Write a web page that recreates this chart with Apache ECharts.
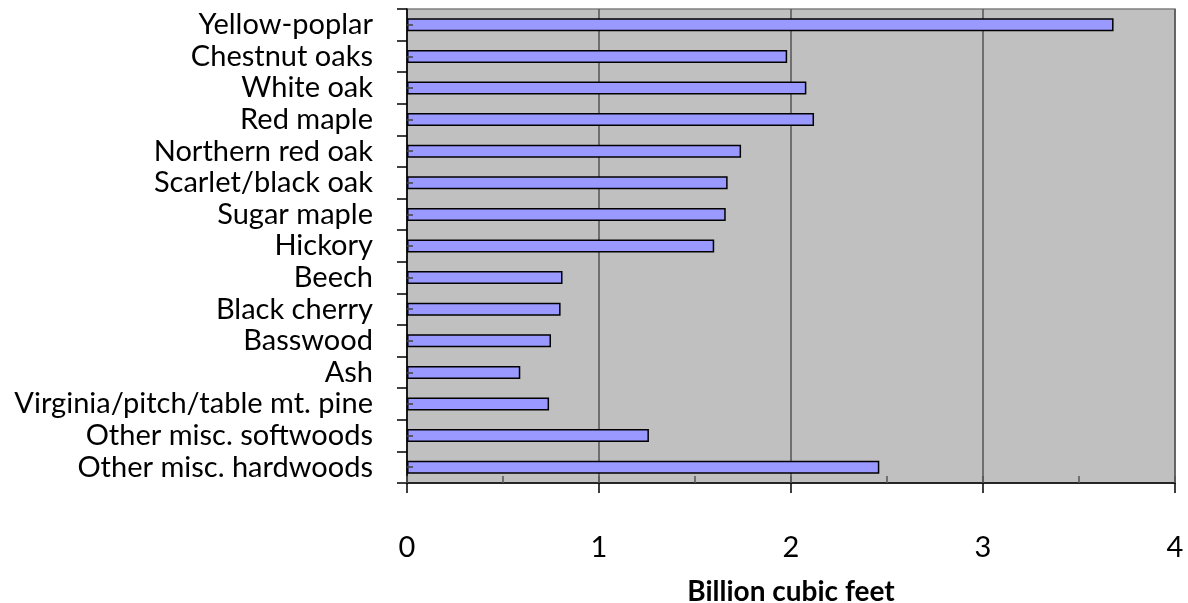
<!DOCTYPE html>
<html>
<head>
<meta charset="utf-8">
<script src="https://cdn.jsdelivr.net/npm/echarts@6/dist/echarts.min.js"></script>
<style>
  html, body { margin: 0; padding: 0; background: #ffffff; }
  #chart { width: 1188px; height: 603px; }
</style>
</head>
<body>
<div id="chart"></div>
<script>
// Growing-stock volume by species group
const species = [
  'Yellow-poplar', 'Chestnut oaks', 'White oak', 'Red maple', 'Northern red oak',
  'Scarlet/black oak', 'Sugar maple', 'Hickory', 'Beech', 'Black cherry',
  'Basswood', 'Ash', 'Virginia/pitch/table mt. pine', 'Other misc. softwoods',
  'Other misc. hardwoods'
];
const volume = [3.68, 1.98, 2.08, 2.12, 1.74, 1.67, 1.66, 1.60, 0.81, 0.80, 0.75, 0.59, 0.74, 1.26, 2.46];
const xTicks = [0, 1, 2, 3, 4];
const axisTitle = 'Billion cubic feet';

const FONT = 'Lato';
const chart = echarts.init(document.getElementById('chart'), null, { renderer: 'canvas' });

chart.setOption({
  animation: false,
  backgroundColor: '#ffffff',
  grid: {
    left: 407, right: 13, top: 9, bottom: 120,
    outerBoundsMode: 'none', containLabel: false,
    show: true, backgroundColor: '#C0C0C0', borderColor: '#808080', borderWidth: 1.5
  },
  xAxis: [
    {
      type: 'value', position: 'bottom',
      min: xTicks[0], max: xTicks[xTicks.length - 1], interval: 1,
      name: axisTitle, nameLocation: 'middle', nameGap: 95,
      nameTextStyle: { fontFamily: FONT, fontSize: 28, fontWeight: 'bold', color: '#000' },
      axisLine: { show: true, lineStyle: { color: '#000', width: 1.5 } },
      axisTick: { show: true, length: 10, lineStyle: { color: '#000', width: 1.5 } },
      axisLabel: { fontFamily: FONT, fontSize: 29, color: '#000', margin: 50 },
      splitLine: { show: true, lineStyle: { color: '#555555', width: 1.5 } }
    },
    {
      // half-unit tick marks drawn inside the plot
      type: 'value', position: 'bottom',
      min: xTicks[0], max: xTicks[xTicks.length - 1], interval: 0.5,
      axisLine: { show: false },
      axisTick: { show: true, inside: true, length: 7, lineStyle: { color: '#555555', width: 1.5 } },
      axisLabel: { show: false },
      splitLine: { show: false }
    }
  ],
  yAxis: [
    {
      type: 'category', data: species, inverse: true, position: 'left',
      axisLine: { show: true, lineStyle: { color: '#000', width: 1.5 } },
      axisTick: { show: true, length: 10, lineStyle: { color: '#000', width: 1.5 } },
      axisLabel: { interval: 0, fontFamily: FONT, fontSize: 29, color: '#000', margin: 34 },
      splitLine: { show: false }
    },
    {
      // short marks at each category centre, drawn over the bars
      type: 'category', data: species, inverse: true, position: 'left', z: 10,
      axisLine: { show: false },
      axisTick: { show: true, inside: true, alignWithLabel: true, interval: 0, length: 6, lineStyle: { color: '#444444', width: 1.5 } },
      axisLabel: { show: false },
      splitLine: { show: false }
    }
  ],
  series: [{
    type: 'bar',
    xAxisIndex: 0, yAxisIndex: 0,
    data: volume,
    barWidth: 13,
    itemStyle: { color: '#9999FF', borderColor: '#000', borderWidth: 1.5 },
    z: 3
  }]
});
</script>
</body>
</html>
